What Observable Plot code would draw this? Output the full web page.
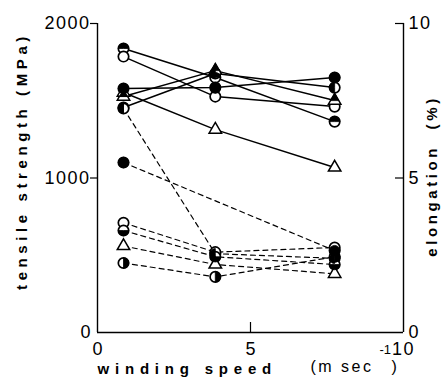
<!DOCTYPE html>
<html><head><meta charset="utf-8">
<script src="https://cdn.jsdelivr.net/npm/d3@7"></script>
<script src="https://cdn.jsdelivr.net/npm/@observablehq/plot@0.6"></script>
<style>
body{margin:0;background:#fff}
svg{font-family:"Liberation Sans",Arial,sans-serif;background:#fff}
</style></head><body><div id="chart"></div>
<script>
// winding speed (m/s)
const speeds = [0.85, 3.85, 7.75];
// tensile strength (MPa), solid lines, left axis
const tsHalfTop   = [1838, 1650, 1365];
const tsOpen      = [1786, 1527, 1462];
const tsFilled    = [1579, 1585, 1650];
const tsTriFilled = [1527, 1695, 1501];
const tsHalfLeft  = [1456, 1676, 1585];
const tsTriOpen   = [1553, 1313, 1068];
// elongation (%), dashed lines, right axis
const elFilled     = [5.5, null, 2.65];
const elHalfLeft   = [7.25, 2.55, 2.4];
const elOpen       = [3.55, 2.6, 2.75];
const elHalfBottom = [3.3, 2.45, 2.2];
const elTriOpen    = [2.8, 2.2, 1.9];
const elHalfRight  = [2.25, 1.8, 2.45];
// ticks
const xTicks = [0, 5, 10];
const tsTicks = [0, 1000, 2000];
const elTicks = [0, 5, 10];

const tsMax = 2000, elMax = 10, k = tsMax / elMax;

const series = [
  {id:"tsHalfTop", kind:"ts", marker:"halfTop", v:tsHalfTop},
  {id:"tsOpen", kind:"ts", marker:"open", v:tsOpen},
  {id:"tsFilled", kind:"ts", marker:"filled", v:tsFilled},
  {id:"tsTriFilled", kind:"ts", marker:"triFilled", v:tsTriFilled},
  {id:"tsHalfLeft", kind:"ts", marker:"halfLeft", v:tsHalfLeft},
  {id:"tsTriOpen", kind:"ts", marker:"triOpen", v:tsTriOpen},
  {id:"elFilled", kind:"el", marker:"filled", v:elFilled},
  {id:"elHalfLeft", kind:"el", marker:"halfLeft", v:elHalfLeft},
  {id:"elOpen", kind:"el", marker:"open", v:elOpen},
  {id:"elHalfBottom", kind:"el", marker:"halfBottom", v:elHalfBottom},
  {id:"elTriOpen", kind:"el", marker:"triOpen", v:elTriOpen},
  {id:"elHalfRight", kind:"el", marker:"halfRight", v:elHalfRight}
];
const rows = [];
for (const s of series) s.v.forEach((val, i) => {
  if (val == null) return;
  rows.push({series:s.id, kind:s.kind, marker:s.marker, x:speeds[i], y: s.kind === "ts" ? val : val * k});
});

function halfCircle(a0){
  return {draw(ctx, size){const r = Math.sqrt(size/Math.PI); ctx.moveTo(0,0); ctx.arc(0,0,r,a0,a0+Math.PI); ctx.closePath();}};
}
function triGeom(size){const r = Math.sqrt(size/Math.PI); const s = 2.4*r, h = s*Math.sqrt(3)/2; return {s,h};}
const tri = {draw(ctx,size){const {s,h}=triGeom(size); ctx.moveTo(0,-2*h/3); ctx.lineTo(s/2,h/3); ctx.lineTo(-s/2,h/3); ctx.closePath();}};
const triTop = {draw(ctx,size){const {s,h}=triGeom(size); ctx.moveTo(0,-2*h/3); ctx.lineTo(s/3,0); ctx.lineTo(-s/3,0); ctx.closePath();}};
const overlay = {halfTop:halfCircle(Math.PI), halfLeft:halfCircle(Math.PI/2), halfRight:halfCircle(-Math.PI/2), halfBottom:halfCircle(0), filled:"circle", triFilled:triTop};

const isTri = d => d.marker.startsWith("tri");
const R = 5.2;
const fmt = d => String(d);

const plot = Plot.plot({
  width: 446, height: 383,
  marginLeft: 97, marginRight: 43, marginTop: 23, marginBottom: 51,
  x: {domain: [0, 10]},
  y: {domain: [0, tsMax]},
  style: {fontFamily: '"Liberation Sans", Arial, sans-serif', color: "black", background: "white"},
  marks: [
    Plot.ruleX([0, 10], {stroke: "black", strokeWidth: 1.4}),
    Plot.ruleY([0], {stroke: "black", strokeWidth: 1.4}),
    // left axis
    Plot.axisY({ticks: tsTicks.filter(t => t > 0), tickSize: 7, tickFormat: () => "", label: null, strokeWidth: 1.2}),
    Plot.axisY({ticks: tsTicks, tickSize: 0, tickPadding: 7, fontSize: 18, tickFormat: fmt, label: null}),
    // right axis
    Plot.axisY({anchor: "right", ticks: elTicks.filter(t => t > 0).map(t => t * k), tickSize: 9, dx: -9, tickFormat: () => "", label: null, strokeWidth: 1.2}),
    Plot.axisY({anchor: "right", ticks: elTicks.map(t => t * k), tickFormat: d => String(d / k), tickSize: 0, tickPadding: 5, fontSize: 18, label: null}),
    // x axis
    Plot.axisX({ticks: [5], tickSize: 10, dy: -10, tickFormat: () => "", label: null, strokeWidth: 1.2}),
    Plot.axisX({ticks: xTicks, tickSize: 0, tickPadding: 10, fontSize: 18, tickFormat: fmt, label: null}),
    // lines
    Plot.line(rows.filter(d => d.kind === "ts"), {x: "x", y: "y", z: "series", stroke: "black", strokeWidth: 1.5}),
    Plot.line(rows.filter(d => d.kind === "el"), {x: "x", y: "y", z: "series", stroke: "black", strokeWidth: 1.2, strokeDasharray: "5,4"}),
    // markers base
    Plot.dot(rows.filter(d => !isTri(d)), {x: "x", y: "y", r: R, symbol: "circle", fill: "white", stroke: "black", strokeWidth: 1.7}),
    Plot.dot(rows.filter(isTri), {x: "x", y: "y", r: R, symbol: tri, fill: "white", stroke: "black", strokeWidth: 1.5}),
    // markers fill overlays
    ...Object.entries(overlay).map(([m, sym]) =>
      Plot.dot(rows.filter(d => d.marker === m), {x: "x", y: "y", r: R, symbol: sym, fill: "black", stroke: "black", strokeWidth: 0.8})),
    // titles
    Plot.text(["tensile strength (MPa)"], {text: d => d, frameAnchor: "left", textAnchor: "middle", dx: -75, dy: -17, rotate: -90, fontSize: 15, fontWeight: "bold"}),
    Plot.text(["elongation  (%)"], {text: d => d, frameAnchor: "right", textAnchor: "middle", dx: 29, dy: -2, rotate: -90, fontSize: 15, fontWeight: "bold"}),
    Plot.text(["winding speed"], {text: d => d, frameAnchor: "bottom-left", textAnchor: "start", dx: 0, dy: 41, fontSize: 15, fontWeight: "bold"}),
    Plot.text(["(m sec"], {text: d => d, frameAnchor: "bottom-left", textAnchor: "start", dx: 213, dy: 39, fontSize: 16}),
    Plot.text([")"], {text: d => d, frameAnchor: "bottom-left", textAnchor: "start", dx: 294, dy: 39, fontSize: 16}),
    Plot.text(["-1"], {text: d => d, frameAnchor: "bottom-left", textAnchor: "start", dx: 282, dy: 21, fontSize: 13})
  ]
});
// letter spacing for the spaced-out titles
const spacing = {"tensile strength (MPa)": "4.6px", "elongation  (%)": "3.6px", "winding speed": "5.8px", "(m sec": "2.5px",
  "2000": "1.5px", "1000": "1.5px", "10": "1.5px"};
d3.select(plot).selectAll("text").each(function() {
  const t = this.textContent;
  if (spacing[t]) this.style.letterSpacing = spacing[t];
});
document.getElementById("chart").append(plot);
</script></body></html>
